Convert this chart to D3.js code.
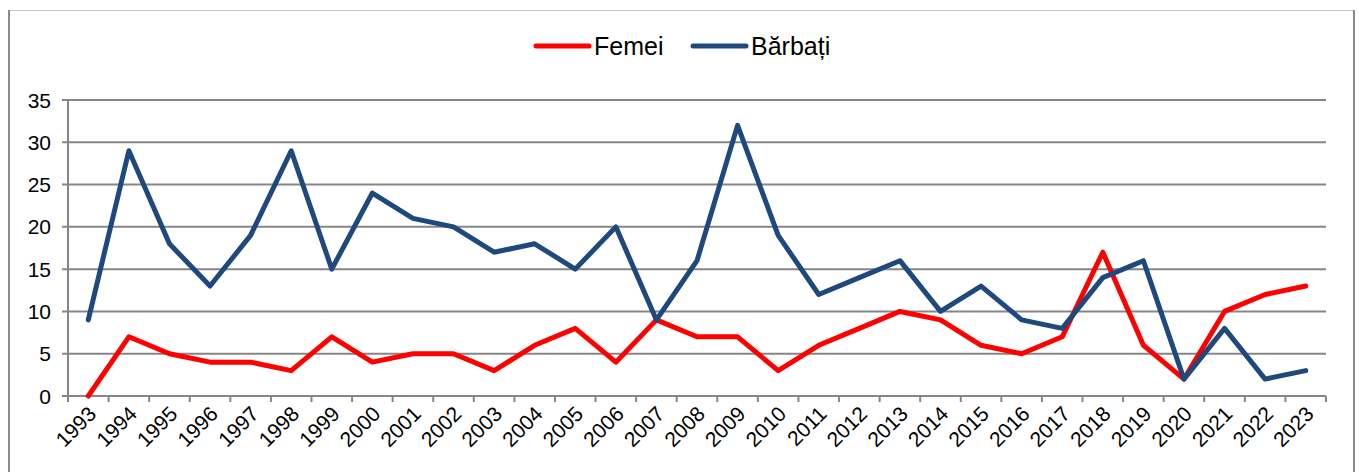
<!DOCTYPE html>
<html>
<head>
<meta charset="utf-8">
<script src="https://cdn.jsdelivr.net/npm/d3@7"></script>
<style>
  body { margin: 0; background: #fff; }
  svg text { font-family: "Liberation Sans", Arial, sans-serif; fill: #000; }
</style>
</head>
<body>
<div id="chart"></div>
<script>
var years = d3.range(1993, 2024).map(String);
var femei = [0, 7, 5, 4, 4, 3, 7, 4, 5, 5, 3, 6, 8, 4, 9, 7, 7, 3, 6, 8, 10, 9, 6, 5, 7, 17, 6, 2, 10, 12, 13];
var barbati = [9, 29, 18, 13, 19, 29, 15, 24, 21, 20, 17, 18, 15, 20, 9, 16, 32, 19, 12, 14, 16, 10, 13, 9, 8, 14, 16, 2, 8, 2, 3];
var yTicks = [0, 5, 10, 15, 20, 25, 30, 35];
var seriesNames = ["Femei", "Bărbați"];
var seriesColors = ["#ff0000", "#1f497d"];

var width = 1359, height = 472;
var svg = d3.select("#chart").append("svg")
    .attr("width", width)
    .attr("height", height);

// outer frame
svg.append("line").attr("x1", 8).attr("y1", 10.5).attr("x2", 1355).attr("y2", 10.5)
    .attr("stroke", "#c8c8c8").attr("stroke-width", 1);
svg.append("line").attr("x1", 9).attr("y1", 10).attr("x2", 9).attr("y2", height)
    .attr("stroke", "#8a8a8a").attr("stroke-width", 2);
svg.append("line").attr("x1", 1354).attr("y1", 10).attr("x2", 1354).attr("y2", height)
    .attr("stroke", "#8a8a8a").attr("stroke-width", 2);

var plotL = 68, plotR = 1326, plotT = 100, plotB = 396;

var x = d3.scaleBand().domain(years).range([plotL, plotR]);
var y = d3.scaleLinear().domain([0, 35]).range([plotB, plotT]);

// gridlines
svg.append("g").selectAll("line").data(yTicks).join("line")
    .attr("x1", plotL - 6).attr("x2", plotR)
    .attr("y1", d => y(d)).attr("y2", d => y(d))
    .attr("stroke", "#868686").attr("stroke-width", 2);

// y axis line
svg.append("line").attr("x1", plotL).attr("x2", plotL).attr("y1", plotT).attr("y2", plotB + 6)
    .attr("stroke", "#868686").attr("stroke-width", 2);

svg.append("g").selectAll("text").data(yTicks).join("text")
    .attr("x", plotL - 17).attr("y", d => y(d))
    .attr("text-anchor", "end").attr("dominant-baseline", "central")
    .style("font-size", "21px")
    .text(d => d);

// x ticks (between categories)
var tickPos = years.map(d => x(d)).concat([plotR]);
svg.append("g").selectAll("line").data(tickPos).join("line")
    .attr("x1", d => d).attr("x2", d => d)
    .attr("y1", plotB).attr("y2", plotB + 6)
    .attr("stroke", "#868686").attr("stroke-width", 2);

svg.append("g").selectAll("text").data(years).join("text")
    .attr("transform", d => "translate(" + (x(d) + x.bandwidth() / 2 + 4) + "," + (plotB + 14) + ") rotate(-45)")
    .attr("text-anchor", "end").attr("dominant-baseline", "central")
    .style("font-size", "21px")
    .text(d => d);

var line = d3.line()
    .x((d, i) => x(years[i]) + x.bandwidth() / 2)
    .y(d => y(d));

[femei, barbati].forEach((s, k) => {
    svg.append("path")
        .datum(s)
        .attr("fill", "none")
        .attr("stroke", seriesColors[k])
        .attr("stroke-width", 5)
        .attr("stroke-linejoin", "round")
        .attr("stroke-linecap", "round")
        .attr("d", line);
});

// legend
var legendX = [536, 693];
seriesNames.forEach((n, k) => {
    var g = svg.append("g").attr("transform", "translate(" + legendX[k] + ",46)");
    g.append("line").attr("x1", 0).attr("x2", 53).attr("y1", 0).attr("y2", 0)
        .attr("stroke", seriesColors[k]).attr("stroke-width", 5).attr("stroke-linecap", "round");
    g.append("text").attr("x", 58).attr("y", 0)
        .attr("dominant-baseline", "central")
        .style("font-size", "25px")
        .text(n);
});
</script>
</body>
</html>
